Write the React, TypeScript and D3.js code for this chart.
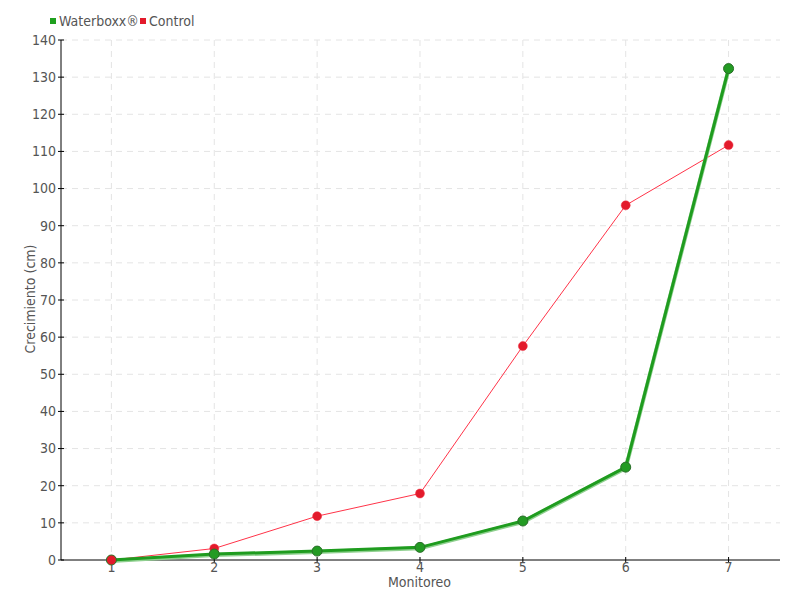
import React from "react";
import * as d3 from "d3";

const monitoreo = [1, 2, 3, 4, 5, 6, 7];
const waterboxx = [0, 1.6, 2.4, 3.4, 10.5, 25, 132.3];
const control = [0, 3.1, 11.8, 17.9, 57.6, 95.5, 111.7];
const yTicks = [0, 10, 20, 30, 40, 50, 60, 70, 80, 90, 100, 110, 120, 130, 140];
const seriesNames = ["Waterboxx®", "Control"];

const W = 800, H = 600;
const left = 61, right = 780, top = 40, bottom = 560;
const font = "'Liberation Sans Narrow', 'DejaVu Sans Condensed', 'Roboto Condensed', Roboto, sans-serif";

export default function App() {
  const x = d3.scaleLinear().domain([0.51, 7.5]).range([left, right]);
  const y = d3.scaleLinear().domain([0, 140]).range([bottom, top]);
  const line = d3.line<number>().x((_, i) => x(monitoreo[i])).y((d) => y(d));
  return (
    <svg width={W} height={H} style={{ position: "absolute", left: 0, top: 0 }} fontFamily={font}>
      <rect width={W} height={H} fill="#fff" />
      {yTicks.slice(1).map((t) => (
        <line key={"gy" + t} x1={left} x2={right} y1={y(t)} y2={y(t)} stroke="#e4e4e4" strokeDasharray="6,5" />
      ))}
      {monitoreo.map((m) => (
        <line key={"gx" + m} x1={x(m)} x2={x(m)} y1={top} y2={bottom} stroke="#e4e4e4" strokeDasharray="6,5" />
      ))}
      <line x1={left} x2={left} y1={top} y2={bottom} stroke="#000" />
      <line x1={left} x2={right} y1={bottom} y2={bottom} stroke="#000" />
      {yTicks.map((t) => (
        <g key={"ty" + t}>
          <line x1={left - 3} x2={left + 3} y1={y(t)} y2={y(t)} stroke="#000" />
          <text x={left - 5} y={y(t)} dy="0.35em" textAnchor="end" fontSize={14} fill="#555">{t}</text>
        </g>
      ))}
      {monitoreo.map((m) => (
        <g key={"tx" + m}>
          <line x1={x(m)} x2={x(m)} y1={bottom - 3} y2={bottom + 3} stroke="#000" />
          <text x={x(m)} y={bottom + 12} textAnchor="middle" fontSize={14} fill="#555">{m}</text>
        </g>
      ))}
      <text x={(left + right) / 2 - 1} y={587} textAnchor="middle" fontSize={14} fill="#555">Monitoreo</text>
      <text transform={`translate(35,${(top + bottom) / 2 - 1}) rotate(-90)`} textAnchor="middle" fontSize={14} fill="#555">Crecimiento (cm)</text>

      <path d={line(control) || ""} fill="none" stroke="#ff3348" strokeWidth={1} />
      {control.map((v, i) => (
        <circle key={"c" + i} cx={x(monitoreo[i])} cy={y(v)} r={4.5} fill="#e31a2b" stroke="#ee3344" strokeWidth={0.5} />
      ))}
      <path d={line(waterboxx) || ""} fill="none" stroke="#8fd08f" strokeWidth={4} transform="translate(0,1)" />
      <path d={line(waterboxx) || ""} fill="none" stroke="#1f9c1f" strokeWidth={3} />
      {waterboxx.map((v, i) => (
        <circle key={"w" + i} cx={x(monitoreo[i])} cy={y(v)} r={5} fill="#239b23" stroke="#2a6e2a" strokeWidth={1} />
      ))}
      <circle cx={x(monitoreo[0])} cy={y(control[0])} r={4.5} fill="#e31a2b" />

      <rect x={50} y={18} width={6} height={6} fill="#1fa01f" />
      <text x={59} y={26} fontSize={14} fill="#555">{seriesNames[0]}</text>
      <rect x={140} y={18} width={6} height={6} fill="#e31a2b" />
      <text x={149} y={26} fontSize={14} fill="#555">{seriesNames[1]}</text>
    </svg>
  );
}
